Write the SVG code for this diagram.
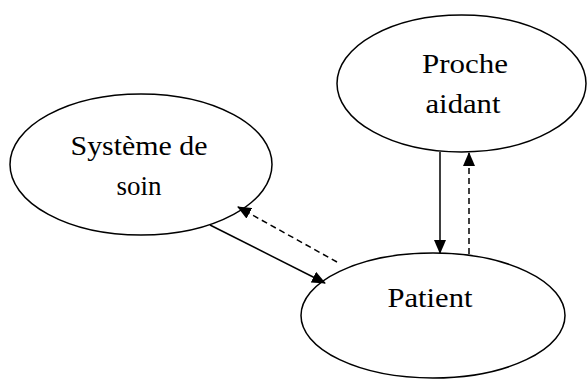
<svg xmlns="http://www.w3.org/2000/svg" width="587" height="379" viewBox="0 0 587 379">
<style>
.node{fill:#fff;stroke:#000;stroke-width:1.5}
.lbl{font-family:"Liberation Serif","DejaVu Serif",serif;font-size:27px;fill:#000;text-anchor:middle}
.edge{stroke:#000;stroke-width:1.5;fill:none}
.dash{stroke-dasharray:6,4}
</style>
<defs>
<marker id="ah" markerWidth="14" markerHeight="12" refX="13" refY="6" orient="auto" markerUnits="userSpaceOnUse">
<path d="M0,0 L14,6 L0,12 Z" fill="#000"/>
</marker>
</defs>
<g id="systeme">
<ellipse class="node" cx="141" cy="164.5" rx="131" ry="70.5"/>
<text class="lbl" x="139" y="155" textLength="137" lengthAdjust="spacingAndGlyphs">Système de</text>
<text class="lbl" x="139" y="195">soin</text>
</g>
<g id="proche">
<ellipse class="node" cx="461.5" cy="83.5" rx="124.5" ry="68.5"/>
<text class="lbl" x="465" y="73" textLength="86" lengthAdjust="spacingAndGlyphs">Proche</text>
<text class="lbl" x="463" y="113" textLength="75" lengthAdjust="spacingAndGlyphs">aidant</text>
</g>
<g id="patient">
<ellipse class="node" cx="433" cy="315.5" rx="132" ry="62.5"/>
<text class="lbl" x="430" y="307" textLength="85" lengthAdjust="spacingAndGlyphs">Patient</text>
</g>
<g id="connectors">
<line class="edge" x1="440" y1="152" x2="440" y2="253" marker-end="url(#ah)"/>
<line class="edge dash" x1="469" y1="254" x2="469" y2="153" marker-end="url(#ah)"/>
<line class="edge" x1="210" y1="225" x2="325" y2="283" marker-end="url(#ah)"/>
<line class="edge dash" x1="337" y1="262" x2="238" y2="207" marker-end="url(#ah)"/>
</g>
</svg>
